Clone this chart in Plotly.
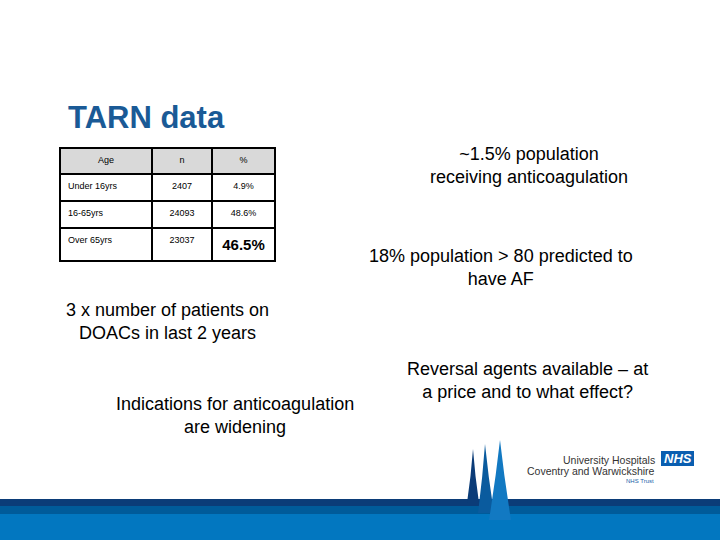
import plotly.graph_objects as go

# ── Data ──────────────────────────────────────────────────────────────────────

headers = ["Age", "n", "%"]
age_groups = ["Under 16yrs", "16-65yrs", "Over 65yrs"]
counts = ["2407", "24093", "23037"]
percents = ["4.9%", "48.6%", "46.5%"]

title = "TARN data"
notes = [
    "~1.5% population<br>receiving anticoagulation",
    "18% population > 80 predicted to<br>have AF",
    "3 x number of patients on<br>DOACs in last 2 years",
    "Reversal agents available – at<br>a price and to what effect?",
    "Indications for anticoagulation<br>are widening",
]
note_pos = [(529, 166), (501, 267), (167, 321), (527, 380), (235, 415)]

W, H = 720, 540
FONT = "Arial, Liberation Sans, sans-serif"


def px(x):
    return x / W


def py(y):
    return 1 - y / H


# ── Figure ────────────────────────────────────────────────────────────────────

# last percentage is emphasised on the slide (trailing <br> stops table wrapping)
pct_cells = [
    f'<span style="font-size:15px"><b>{p}</b></span><br>' if i == len(percents) - 1 else p
    for i, p in enumerate(percents)
]

fig = go.Figure()

fig.add_trace(go.Table(
    domain=dict(x=[px(60), px(275)], y=[py(266), py(148)]),
    columnwidth=[92, 60, 63],
    header=dict(
        values=headers,
        fill_color="#d9d9d9",
        line=dict(color="black", width=1.5),
        align="center",
        height=26,
        font=dict(family=FONT, size=9, color="black"),
    ),
    cells=dict(
        values=[age_groups, counts, pct_cells],
        fill_color="white",
        line=dict(color="black", width=1.5),
        align=["left", "center", "center"],
        height=27,
        font=dict(family=FONT, color="black", size=9),
    ),
))

shapes = []
# bottom bands
shapes.append(dict(type="rect", x0=0, x1=1, y0=0, y1=py(514),
                   fillcolor="#0277c0", line_width=0))
shapes.append(dict(type="rect", x0=0, x1=1, y0=py(514), y1=py(506),
                   fillcolor="#005b9a", line_width=0))
shapes.append(dict(type="rect", x0=0, x1=1, y0=py(506), y1=py(499),
                   fillcolor="#0b3c78", line_width=0))


def spire(x0, x1, xp, yp, yb, color):
    path = (f"M {px(x0)},{py(yb)} Q {px((x0 + xp) / 2 + 1)},{py((yb + yp) / 2)} "
            f"{px(xp)},{py(yp)} Q {px((x1 + xp) / 2 - 1)},{py((yb + yp) / 2)} "
            f"{px(x1)},{py(yb)} Z")
    return dict(type="path", path=path, fillcolor=color, line_width=0)


shapes.append(spire(467, 479, 473, 449, 503, "#0b3c78"))
shapes.append(spire(478, 494, 485, 444, 513, "#0a5b9e"))
shapes.append(spire(489, 511, 500, 440, 520, "#1279c2"))

# NHS box
shapes.append(dict(type="rect", x0=px(661), x1=px(694), y0=py(466), y1=py(451),
                   fillcolor="#0a5eb0", line_width=0))

annotations = [
    dict(text=f"<b>{title}</b>", x=px(66), y=py(117), xanchor="left", yanchor="middle",
         font=dict(family=FONT, size=31, color="#1a5a96"), showarrow=False),
]
for txt, (x, y) in zip(notes, note_pos):
    annotations.append(dict(text=txt, x=px(x), y=py(y), xanchor="center",
                            yanchor="middle", align="center", showarrow=False,
                            font=dict(family=FONT, size=18, color="black")))

annotations += [
    dict(text="University Hospitals", x=px(657), y=py(460), xanchor="right",
         yanchor="middle", showarrow=False,
         font=dict(family=FONT, size=10.5, color="#333333")),
    dict(text="Coventry and Warwickshire", x=px(657), y=py(471), xanchor="right",
         yanchor="middle", showarrow=False,
         font=dict(family=FONT, size=10.5, color="#333333")),
    dict(text="NHS Trust", x=px(656), y=py(481), xanchor="right",
         yanchor="middle", showarrow=False,
         font=dict(family=FONT, size=6, color="#1a5fa8")),
    dict(text="<b><i>NHS</i></b>", x=px(677.5), y=py(458.5), xanchor="center",
         yanchor="middle", showarrow=False,
         font=dict(family=FONT, size=13, color="white")),
]

fig.update_layout(
    width=W, height=H,
    margin=dict(l=0, r=0, t=0, b=0),
    paper_bgcolor="white",
    plot_bgcolor="white",
    xaxis=dict(visible=False),
    yaxis=dict(visible=False),
    shapes=shapes,
    annotations=annotations,
    showlegend=False,
)

# drop the default page margin so the slide fills the window
fig.write_html("out.html", config={"displayModeBar": False},
               post_script="document.body.style.margin = '0';")
